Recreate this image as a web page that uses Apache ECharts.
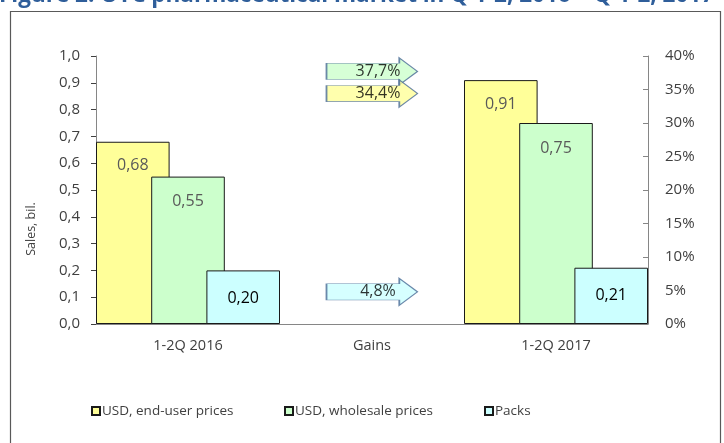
<!DOCTYPE html>
<html><head><meta charset="utf-8">
<script src="https://cdn.jsdelivr.net/npm/echarts@6/dist/echarts.min.js"></script>
<style>html,body{margin:0;padding:0;background:#fff}#c{width:724px;height:443px}</style>
</head><body><div id="c"></div>
<script>
const categories = ['1-2Q 2016', 'Gains', '1-2Q 2017'];
const endUser = [0.68, null, 0.91];
const wholesale = [0.55, null, 0.75];
const packs = [0.20, null, 0.21];
const gainLabels = ['USD, wholesale prices', 'USD, end-user prices', 'Packs'];
const gainValues = [37.7, 34.4, 4.8];
const seriesNames = ['USD, end-user prices', 'USD, wholesale prices', 'Packs'];
const title = 'Figure 2. OTC pharmaceutical market in Q 1-2, 2016 – Q 1-2, 2017';

const FONT = "'Open Sans', 'Liberation Sans', sans-serif";
const colors = {'USD, end-user prices': '#FFFF99', 'USD, wholesale prices': '#CCFFCC', 'Packs': '#CCFFFF'};
const comma = (v, d) => v.toFixed(d).replace('.', ',');
const arrowPath = 'path://M0,6 L80,6 L80,0 L100,15 L80,30 L80,24 L0,24 Z';

function barSeries(name, data, labelColor, dist) {
  return {
    name, type: 'bar', data, barGap: '-25%', barCategoryGap: '0%',
    itemStyle: {color: colors[name], borderColor: '#1a1a1a', borderWidth: 1},
    label: {show: true, position: 'insideTop', distance: dist, color: labelColor,
      fontFamily: FONT, fontSize: 16, formatter: p => comma(p.value, 2)},
    z: 2
  };
}

const chart = echarts.init(document.getElementById('c'), null, {renderer: 'canvas'});
chart.setOption({
  animation: false,
  textStyle: {fontFamily: FONT},
  grid: {left: 96, right: 76, top: 56, bottom: 119},
  graphic: [
    {type: 'rect', shape: {x: 10.5, y: 11.5, width: 710, height: 440}, style: {fill: 'none', stroke: '#595959', lineWidth: 1.2}, z: 0},
    {type: 'text', x: -1, y: -4, style: {text: title, font: "bold 22.5px 'Open Sans'", fill: '#2F5E9A', verticalAlign: 'middle'}},
    {type: 'text', x: 31, y: 229, rotation: Math.PI / 2, style: {text: 'Sales, bil.', font: "12.5px 'Open Sans'", fill: '#404040', align: 'center', verticalAlign: 'middle'}}
  ],
  xAxis: {
    type: 'category', data: categories,
    axisLine: {lineStyle: {color: '#868686'}},
    axisTick: {length: 5, lineStyle: {color: '#404040'}},
    axisLabel: {color: '#404040', fontSize: 14.5, margin: 14, fontFamily: FONT}
  },
  yAxis: [
    {type: 'value', min: 0, max: 1, interval: 0.1,
      axisLine: {show: true, lineStyle: {color: '#868686'}},
      axisTick: {show: true, length: 5, lineStyle: {color: '#404040'}},
      splitLine: {show: false},
      axisLabel: {color: '#404040', fontSize: 15, margin: 16, fontFamily: FONT, formatter: v => comma(v, 1)}},
    {type: 'value', min: 0, max: 40, interval: 5, position: 'right',
      axisLine: {show: true, lineStyle: {color: '#868686'}},
      axisTick: {show: true, inside: true, length: 5, lineStyle: {color: '#868686'}},
      splitLine: {show: false},
      axisLabel: {color: '#404040', fontSize: 15, margin: 17, fontFamily: FONT, formatter: '{value}%'}}
  ],
  legend: [
    {data: [seriesNames[0]], left: 86, top: 399},
    {data: [seriesNames[1]], left: 279, top: 399},
    {data: [seriesNames[2]], left: 479, top: 399}
  ].map(l => Object.assign(l, {icon: 'rect', itemWidth: 8, itemHeight: 8, itemGap: 0,
    textStyle: {color: '#404040', fontSize: 13.5, fontFamily: FONT, padding: [0, 0, 0, -3]}})),
  series: [
    barSeries(seriesNames[0], endUser, '#595959', 16),
    barSeries(seriesNames[1], wholesale, '#595959', 17),
    barSeries(seriesNames[2], packs, '#000000', 20),
    {
      type: 'scatter', yAxisIndex: 1, symbol: arrowPath, symbolSize: [91, 27], z: 5,
      data: gainValues.map((v, i) => ({
        value: ['Gains', v],
        itemStyle: {color: colors[gainLabels[i]], borderColor: '#4A6B96', borderWidth: 1}
      })),
      label: {show: true, position: 'inside', offset: [6, 0], color: '#000', fontSize: 16, fontFamily: FONT,
        formatter: p => comma(p.value[1], 1) + '%'},
      silent: true
    }
  ]
});
</script></body></html>
